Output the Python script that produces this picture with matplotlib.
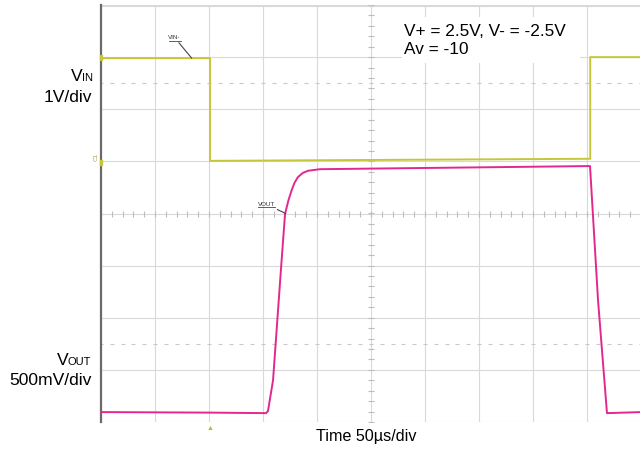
import matplotlib

matplotlib.use("Agg", force=True)
import matplotlib.pyplot as plt
import numpy as np
from matplotlib.patches import Rectangle

plt.rcParams["font.family"] = ["Liberation Sans", "DejaVu Sans"]

# scope trace breakpoints, time in microseconds, level in screen divisions (0 = centre line)
vin_t_us = [0, 101, 101, 453, 453, 500]
vin_div = [2.98, 2.98, 1.01, 1.05, 3.00, 3.00]

vout_t_us = [0, 101, 152.8, 154.6, 159.3, 166.7, 170.4, 173.5, 176.6, 179.2, 182.4, 187.0, 191.7,
             202.8, 452.8, 460.2, 468.5, 500]
vout_div = [-3.81, -3.82, -3.83, -3.79, -3.20, -1.05, -0.01, 0.25, 0.45, 0.59, 0.70, 0.78, 0.82,
            0.85, 0.91, -1.66, -3.83, -3.81]

time_div_us = 50
n_xdiv = 10
n_ydiv = 8
vin_label = "1V/div"
vout_label = "500mV/div"
time_label = "Time 50µs/div"
cond_lines = ["V+ = 2.5V, V- = -2.5V", "Av = -10"]

W, H = 640, 451
YELLOW = "#c6c63a"
PINK = "#e2288e"
GRID = "#d9d9d9"


def fx(x):
    return x / W


def fy(y):
    return 1 - y / H


fig = plt.figure(figsize=(W / 100, H / 100), dpi=100)
ax = fig.add_axes([fx(101), fy(422), 540 / W, 417 / H])
ax.set_xlim(0, n_xdiv * time_div_us)
ax.set_ylim(-n_ydiv / 2, n_ydiv / 2)
ax.set_xticks([])
ax.set_yticks([])
for side in ["top", "right", "bottom"]:
    ax.spines[side].set_visible(False)
ax.spines["left"].set_color("#6a6a6a")
ax.spines["left"].set_linewidth(1.6)

# graticule
for i in range(1, n_xdiv + 1):
    ax.axvline(i * time_div_us, color=GRID, lw=0.8, zorder=0)
for j in range(-n_ydiv // 2, n_ydiv // 2 + 1):
    lw = 2.2 if j == n_ydiv // 2 else 0.8
    ax.axhline(j, color=GRID, lw=lw, zorder=0)

# centre-line minor ticks
minor_x = np.arange(0, n_xdiv * time_div_us + 1, time_div_us / 5)
minor_y = np.arange(-n_ydiv / 2, n_ydiv / 2 + 0.01, 0.2)
ax.plot(minor_x, np.zeros_like(minor_x), ls="none", marker="|", ms=4, mew=0.8, color="#bdbdbd", zorder=0)
ax.plot(np.full_like(minor_y, 5 * time_div_us), minor_y, ls="none", marker="_", ms=4, mew=0.8, color="#bdbdbd", zorder=0)

# dotted cursor rows
for yc in (2.5, -2.5):
    ax.plot(minor_x, np.full_like(minor_x, yc), ls="none", marker="_", ms=2.5, mew=0.8, color="#c8c8c8", zorder=0)

# traces
ax.plot(vin_t_us, vin_div, color=YELLOW, lw=1.4, zorder=3, clip_on=False)
ax.plot(vout_t_us, vout_div, color=PINK, lw=1.4, zorder=3, clip_on=False)

# trace labels with leader lines
ax.annotate("VIN-", xy=(84, vin_div[0]), xytext=(68, 3.33), fontsize=4.5, color="#333333",
            ha="center", va="bottom",
            arrowprops=dict(arrowstyle="-", color="#444444", lw=0.8, shrinkA=0, shrinkB=0))
ax.plot([63, 74], [3.31, 3.31], color="#444444", lw=0.6)
ax.annotate("VOUT", xy=(171, 0), xytext=(153, 0.13), fontsize=4.5, color="#333333",
            ha="center", va="bottom",
            arrowprops=dict(arrowstyle="-", color="#444444", lw=0.8, shrinkA=0, shrinkB=0))
ax.plot([145, 161], [0.12, 0.12], color="#444444", lw=0.6)

# trigger and ground markers
fig.text(fx(210), fy(428), "\u25b2", color="#b8b830", fontsize=5, ha="center", va="center")
fig.text(fx(96), fy(157), "C1", color="#b09a40", fontsize=4.5, rotation=90, ha="center", va="center")
fig.add_artist(Rectangle((fx(100), fy(60)), 2 / W, 5 / H, color=YELLOW, transform=fig.transFigure))
fig.add_artist(Rectangle((fx(100), fy(165)), 2 / W, 5 / H, color=YELLOW, transform=fig.transFigure))

# conditions box
fig.add_artist(Rectangle((fx(402), fy(63)), 178 / W, 46 / H, facecolor="white", edgecolor="none",
                         transform=fig.transFigure, zorder=4))
fig.text(fx(404), fy(31), cond_lines[0], fontsize=12.4, ha="left", va="center", zorder=5)
fig.text(fx(404), fy(50), cond_lines[1], fontsize=12.4, ha="left", va="center", zorder=5)

# channel labels
fig.text(fx(93), fy(81), "IN", fontsize=8, ha="right", va="baseline")
fig.text(fx(83), fy(81), "V", fontsize=12.6, ha="right", va="baseline")
fig.text(fx(92), fy(102), vin_label, fontsize=12.6, ha="right", va="baseline")
fig.text(fx(91), fy(365), "OUT", fontsize=8, ha="right", va="baseline")
fig.text(fx(69), fy(365), "V", fontsize=12.6, ha="right", va="baseline")
fig.text(fx(92), fy(385), vout_label, fontsize=12.6, ha="right", va="baseline")

fig.text(fx(366), fy(437), time_label, fontsize=11.6, ha="center", va="center")

fig.savefig("out.png", dpi=100)
